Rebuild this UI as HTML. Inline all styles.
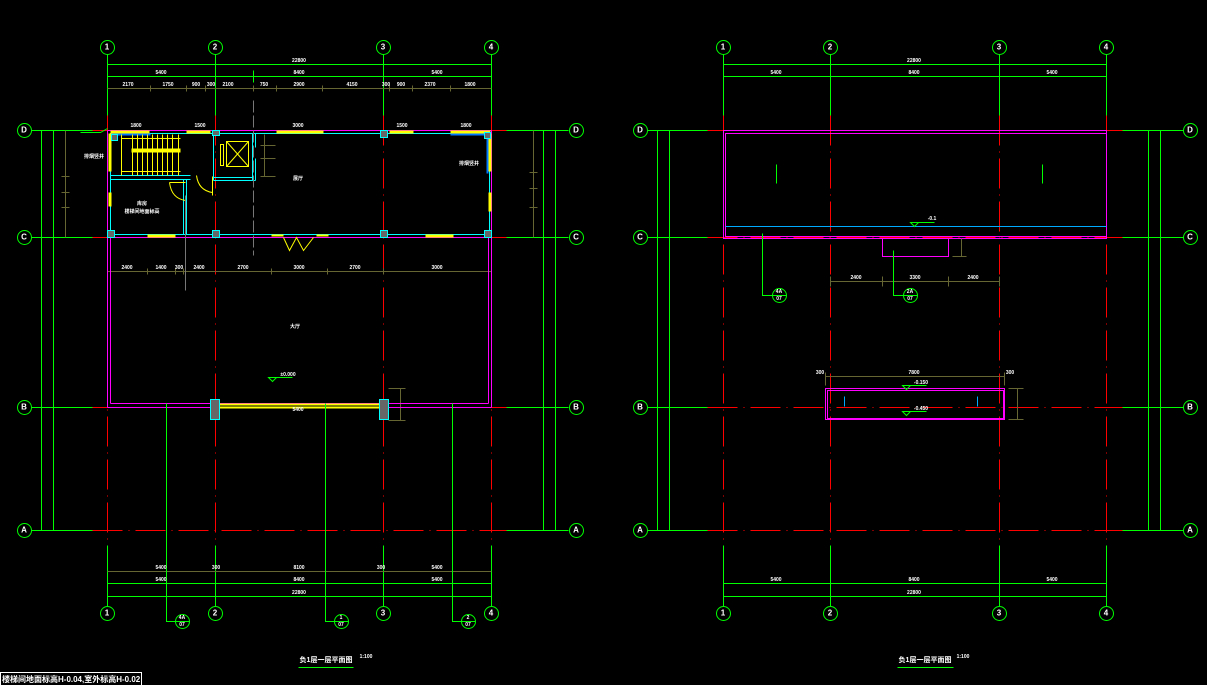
<!DOCTYPE html>
<html><head><meta charset="utf-8"><style>
html,body{margin:0;padding:0;background:#000;width:1207px;height:685px;overflow:hidden}
svg{display:block}
text{font-family:"Liberation Sans","Noto Sans CJK SC",sans-serif;fill:#fff;font-weight:bold}
</style></head><body>
<svg width="1207" height="685" viewBox="0 0 1207 685" xmlns="http://www.w3.org/2000/svg">
<g fill="none" stroke-width="1" transform="translate(0.5,0.5)">

<!-- ================= LEFT PLAN ================= -->
<g stroke="#00ff00">
<line x1="107" y1="54" x2="107" y2="115"/><line x1="215" y1="54" x2="215" y2="115"/><line x1="383" y1="54" x2="383" y2="115"/><line x1="491" y1="54" x2="491" y2="115"/>
<line x1="107" y1="545" x2="107" y2="606"/><line x1="215" y1="545" x2="215" y2="606"/><line x1="383" y1="545" x2="383" y2="606"/><line x1="491" y1="545" x2="491" y2="606"/>
</g>
<g stroke="#ff0000" stroke-dasharray="30,6,1,6">
<line x1="107" y1="115" x2="107" y2="545"/><line x1="215" y1="115" x2="215" y2="545"/><line x1="383" y1="115" x2="383" y2="545"/><line x1="491" y1="115" x2="491" y2="545"/>
</g>
<g stroke="#00ff00">
<line x1="31" y1="130" x2="92" y2="130"/><line x1="31" y1="237" x2="92" y2="237"/><line x1="31" y1="407" x2="92" y2="407"/><line x1="31" y1="530" x2="92" y2="530"/>
<line x1="506" y1="130" x2="568" y2="130"/><line x1="506" y1="237" x2="568" y2="237"/><line x1="506" y1="407" x2="568" y2="407"/><line x1="506" y1="530" x2="568" y2="530"/>
</g>
<g stroke="#ff0000" stroke-dasharray="30,6,1,6">
<line x1="92" y1="130" x2="506" y2="130"/><line x1="92" y1="237" x2="506" y2="237"/><line x1="92" y1="407" x2="506" y2="407"/><line x1="92" y1="530" x2="506" y2="530"/>
</g>
<g stroke="#00ff00">
<line x1="107" y1="64" x2="491" y2="64"/><line x1="107" y1="76" x2="491" y2="76"/>
<line x1="253" y1="70" x2="253" y2="82"/>
<line x1="107" y1="583" x2="491" y2="583"/><line x1="107" y1="596" x2="491" y2="596"/>
<line x1="41" y1="130" x2="41" y2="530"/><line x1="53" y1="130" x2="53" y2="530"/>
<line x1="543" y1="130" x2="543" y2="530"/><line x1="555" y1="130" x2="555" y2="530"/>
</g>
<g stroke="#666633">
<line x1="107" y1="88" x2="491" y2="88"/>
<line x1="150" y1="85" x2="150" y2="91"/><line x1="186" y1="85" x2="186" y2="91"/><line x1="205" y1="85" x2="205" y2="91"/><line x1="253" y1="85" x2="253" y2="91"/><line x1="276" y1="85" x2="276" y2="91"/><line x1="322" y1="85" x2="322" y2="91"/><line x1="389" y1="85" x2="389" y2="91"/><line x1="412" y1="85" x2="412" y2="91"/><line x1="450" y1="85" x2="450" y2="91"/>
<line x1="107" y1="271" x2="491" y2="271"/>
<line x1="147" y1="268" x2="147" y2="274"/><line x1="175" y1="268" x2="175" y2="274"/><line x1="183" y1="268" x2="183" y2="274"/><line x1="271" y1="268" x2="271" y2="274"/><line x1="327" y1="268" x2="327" y2="274"/><line x1="383" y1="268" x2="383" y2="274"/>
<line x1="107" y1="571" x2="491" y2="571"/>
<line x1="65" y1="130" x2="65" y2="237"/><line x1="61" y1="176" x2="69" y2="176"/><line x1="61" y1="192" x2="69" y2="192"/><line x1="61" y1="207" x2="69" y2="207"/>
<line x1="533" y1="130" x2="533" y2="237"/><line x1="529" y1="172" x2="537" y2="172"/><line x1="529" y1="188" x2="537" y2="188"/><line x1="529" y1="207" x2="537" y2="207"/>
<line x1="264" y1="134" x2="264" y2="176"/><line x1="260" y1="145" x2="275" y2="145"/><line x1="260" y1="158" x2="275" y2="158"/><line x1="260" y1="176" x2="275" y2="176"/>
<line x1="400" y1="388" x2="400" y2="420"/><line x1="388" y1="388" x2="405" y2="388"/><line x1="388" y1="420" x2="405" y2="420"/>
</g>
<g stroke="#ff00ff">
<line x1="107" y1="130" x2="491" y2="130"/>
<line x1="107" y1="130" x2="107" y2="407"/><line x1="110" y1="237" x2="110" y2="403"/>
<line x1="491" y1="130" x2="491" y2="407"/><line x1="488" y1="237" x2="488" y2="403"/>
<line x1="110" y1="403" x2="488" y2="403"/><line x1="107" y1="407" x2="491" y2="407"/>
<line x1="107" y1="237" x2="491" y2="237"/>
</g>
<g stroke="#00ffff">
<rect x="110" y="133" width="379" height="101"/>
<line x1="110" y1="179" x2="190" y2="179"/><line x1="110" y1="175" x2="190" y2="175"/>
<line x1="183" y1="179" x2="183" y2="234"/><line x1="186" y1="179" x2="186" y2="234"/>
<line x1="213" y1="133" x2="213" y2="180"/><line x1="252" y1="133" x2="252" y2="180"/><line x1="213" y1="180" x2="255" y2="180"/><line x1="213" y1="177" x2="252" y2="177"/>
<line x1="255" y1="133" x2="255" y2="147"/><line x1="255" y1="158" x2="255" y2="180"/>
</g>
<g fill="#ffff00" stroke="none">
<rect x="110" y="130" width="39" height="3"/><rect x="186" y="130" width="24" height="3"/><rect x="276" y="130" width="47" height="3"/><rect x="389" y="130" width="24" height="3"/><rect x="450" y="130" width="40" height="3"/>
<rect x="108" y="133" width="3" height="38"/><rect x="108" y="192" width="3" height="14"/><rect x="488" y="133" width="3" height="38"/><rect x="488" y="192" width="3" height="19"/>
<rect x="147" y="234" width="28" height="3"/><rect x="425" y="234" width="28" height="3"/><rect x="271" y="234" width="12" height="2"/><rect x="316" y="234" width="12" height="2"/>
<rect x="219" y="403" width="162" height="2"/><rect x="219" y="406" width="162" height="2"/>
</g>
<g fill="#0077ff" stroke="none"><rect x="111" y="133" width="39" height="2"/><rect x="450" y="133" width="38" height="2"/><rect x="486" y="133" width="2" height="40"/></g>
<g stroke="#ffff00">
<line x1="121" y1="134" x2="121" y2="175"/><line x1="121" y1="138" x2="180" y2="138"/><line x1="121" y1="171" x2="180" y2="171"/>
<line x1="132" y1="134" x2="132" y2="175"/><line x1="137" y1="134" x2="137" y2="175"/><line x1="142" y1="134" x2="142" y2="175"/><line x1="147" y1="134" x2="147" y2="175"/><line x1="152" y1="134" x2="152" y2="175"/><line x1="157" y1="134" x2="157" y2="175"/><line x1="162" y1="134" x2="162" y2="175"/><line x1="167" y1="134" x2="167" y2="175"/><line x1="172" y1="134" x2="172" y2="175"/><line x1="178" y1="134" x2="178" y2="175"/>
<rect x="226" y="141" width="22" height="25"/><line x1="226" y1="141" x2="248" y2="166"/><line x1="248" y1="141" x2="226" y2="166"/>
<rect x="220" y="144" width="3" height="21"/>
<path d="M169,182 Q171,198 185,200"/><line x1="169" y1="182" x2="185" y2="182"/>
<path d="M196,175 Q198,190 212,192"/><line x1="212" y1="176" x2="212" y2="195"/>
<path d="M283,237 L289,250 L296,237 L303,250 L313,237"/>
</g>
<g fill="#ffff00" stroke="none"><rect x="131" y="148" width="49" height="4"/></g>
<g stroke="#00ffff" fill="#666">
<rect x="107" y="230" width="7" height="7"/><rect x="212" y="230" width="7" height="7"/><rect x="380" y="230" width="7" height="7"/><rect x="484" y="230" width="7" height="7"/>
<rect x="212" y="130" width="7" height="5"/><rect x="380" y="130" width="7" height="7"/><rect x="484" y="132" width="6" height="6"/><rect x="111" y="134" width="6" height="6"/>
<rect x="210" y="399" width="9" height="20"/><rect x="379" y="399" width="9" height="20"/>
</g>
<line x1="253" y1="100" x2="253" y2="255" stroke="#777" stroke-dasharray="12,3"/>
<line x1="185" y1="195" x2="185" y2="290" stroke="#777"/>
<g stroke="#00ff00">
<polyline points="166,403 166,621 175,621"/><polyline points="325,403 325,621 334,621"/><polyline points="452,403 452,621 461,621"/>
<path d="M268,377 l4,4 l4,-4 z M272,377 h20"/>
<path d="M80,132 h20 l7,-4"/>
<circle cx="182" cy="621" r="7"/><circle cx="341" cy="621" r="7"/><circle cx="468" cy="621" r="7"/>
<line x1="175" y1="621" x2="189" y2="621"/><line x1="334" y1="621" x2="348" y2="621"/><line x1="461" y1="621" x2="475" y2="621"/>
<circle cx="107" cy="47" r="7"/><circle cx="215" cy="47" r="7"/><circle cx="383" cy="47" r="7"/><circle cx="491" cy="47" r="7"/>
<circle cx="107" cy="613" r="7"/><circle cx="215" cy="613" r="7"/><circle cx="383" cy="613" r="7"/><circle cx="491" cy="613" r="7"/>
<circle cx="24" cy="130" r="7"/><circle cx="24" cy="237" r="7"/><circle cx="24" cy="407" r="7"/><circle cx="24" cy="530" r="7"/>
<circle cx="576" cy="130" r="7"/><circle cx="576" cy="237" r="7"/><circle cx="576" cy="407" r="7"/><circle cx="576" cy="530" r="7"/>
<line x1="298" y1="667" x2="353" y2="667"/>
</g>

<!-- ================= RIGHT PLAN ================= -->
<g stroke="#00ff00">
<line x1="723" y1="54" x2="723" y2="115"/><line x1="830" y1="54" x2="830" y2="115"/><line x1="999" y1="54" x2="999" y2="115"/><line x1="1106" y1="54" x2="1106" y2="115"/>
<line x1="723" y1="545" x2="723" y2="606"/><line x1="830" y1="545" x2="830" y2="606"/><line x1="999" y1="545" x2="999" y2="606"/><line x1="1106" y1="545" x2="1106" y2="606"/>
<line x1="647" y1="130" x2="707" y2="130"/><line x1="647" y1="237" x2="707" y2="237"/><line x1="647" y1="407" x2="707" y2="407"/><line x1="647" y1="530" x2="707" y2="530"/>
<line x1="1122" y1="130" x2="1183" y2="130"/><line x1="1122" y1="237" x2="1183" y2="237"/><line x1="1122" y1="407" x2="1183" y2="407"/><line x1="1122" y1="530" x2="1183" y2="530"/>
<line x1="723" y1="64" x2="1106" y2="64"/><line x1="723" y1="76" x2="1106" y2="76"/>
<line x1="723" y1="583" x2="1106" y2="583"/><line x1="723" y1="596" x2="1106" y2="596"/>
<line x1="657" y1="130" x2="657" y2="530"/><line x1="669" y1="130" x2="669" y2="530"/>
<line x1="1148" y1="130" x2="1148" y2="530"/><line x1="1160" y1="130" x2="1160" y2="530"/>
</g>
<g stroke="#ff0000" stroke-dasharray="30,6,1,6">
<line x1="723" y1="115" x2="723" y2="545"/><line x1="830" y1="115" x2="830" y2="545"/><line x1="999" y1="115" x2="999" y2="545"/><line x1="1106" y1="115" x2="1106" y2="545"/>
<line x1="707" y1="130" x2="1122" y2="130"/><line x1="707" y1="237" x2="1122" y2="237"/><line x1="707" y1="407" x2="1122" y2="407"/><line x1="707" y1="530" x2="1122" y2="530"/>
</g>
<g stroke="#ff00ff">
<rect x="723" y="130" width="383" height="108"/><rect x="725" y="133" width="381" height="103"/>
<polyline points="882,238 882,256 948,256 948,238"/>
<rect x="825" y="388" width="179" height="31"/><rect x="827" y="390" width="176" height="28"/>
</g>
<line x1="725" y1="226" x2="1106" y2="226" stroke="#00aaff"/>
<g stroke="#666633">
<line x1="830" y1="281" x2="999" y2="281"/><line x1="830" y1="276" x2="830" y2="286"/><line x1="882" y1="276" x2="882" y2="286"/><line x1="948" y1="276" x2="948" y2="286"/><line x1="999" y1="276" x2="999" y2="286"/>
<line x1="961" y1="238" x2="961" y2="256"/><line x1="952" y1="256" x2="966" y2="256"/>
<line x1="825" y1="376" x2="1004" y2="376"/><line x1="825" y1="372" x2="825" y2="385"/><line x1="1004" y1="372" x2="1004" y2="385"/>
<line x1="1017" y1="388" x2="1017" y2="419"/><line x1="1008" y1="388" x2="1023" y2="388"/><line x1="1008" y1="419" x2="1023" y2="419"/>
</g>
<g stroke="#00ff00">
<polyline points="762,233 762,295 772,295"/>
<polyline points="893,250 893,295 903,295"/>
<line x1="776" y1="164" x2="776" y2="183"/><line x1="1042" y1="164" x2="1042" y2="183"/>
<line x1="897" y1="667" x2="953" y2="667"/>
<circle cx="779" cy="295" r="7"/><line x1="772" y1="295" x2="786" y2="295"/>
<circle cx="910" cy="295" r="7"/><line x1="903" y1="295" x2="917" y2="295"/>
<path d="M910,222 l4,4 l4,-4 z M914,222 h20"/>
<path d="M902,385 l4,4 l4,-4 z M906,385 h20"/>
<path d="M902,411 l4,4 l4,-4 z M906,411 h20"/>
<circle cx="723" cy="47" r="7"/><circle cx="830" cy="47" r="7"/><circle cx="999" cy="47" r="7"/><circle cx="1106" cy="47" r="7"/>
<circle cx="723" cy="613" r="7"/><circle cx="830" cy="613" r="7"/><circle cx="999" cy="613" r="7"/><circle cx="1106" cy="613" r="7"/>
<circle cx="640" cy="130" r="7"/><circle cx="640" cy="237" r="7"/><circle cx="640" cy="407" r="7"/><circle cx="640" cy="530" r="7"/>
<circle cx="1190" cy="130" r="7"/><circle cx="1190" cy="237" r="7"/><circle cx="1190" cy="407" r="7"/><circle cx="1190" cy="530" r="7"/>
</g>
<g stroke="#00aaff"><line x1="844" y1="396" x2="844" y2="406"/><line x1="977" y1="396" x2="977" y2="406"/></g>

<rect x="0" y="672" width="141" height="14" stroke="#fff"/>
</g>

<g font-size="8" text-anchor="middle" dominant-baseline="central" font-weight="normal">
<text x="107" y="47">1</text><text x="215" y="47">2</text><text x="383" y="47">3</text><text x="491" y="47">4</text>
<text x="107" y="613">1</text><text x="215" y="613">2</text><text x="383" y="613">3</text><text x="491" y="613">4</text>
<text x="24" y="130">D</text><text x="24" y="237">C</text><text x="24" y="407">B</text><text x="24" y="530">A</text>
<text x="576" y="130">D</text><text x="576" y="237">C</text><text x="576" y="407">B</text><text x="576" y="530">A</text>
<text x="723" y="47">1</text><text x="830" y="47">2</text><text x="999" y="47">3</text><text x="1106" y="47">4</text>
<text x="723" y="613">1</text><text x="830" y="613">2</text><text x="999" y="613">3</text><text x="1106" y="613">4</text>
<text x="640" y="130">D</text><text x="640" y="237">C</text><text x="640" y="407">B</text><text x="640" y="530">A</text>
<text x="1190" y="130">D</text><text x="1190" y="237">C</text><text x="1190" y="407">B</text><text x="1190" y="530">A</text>
</g>
<g font-size="5" text-anchor="middle">
<text x="299" y="62">22800</text><text x="161" y="74">5400</text><text x="299" y="74">8400</text><text x="437" y="74">5400</text>
<text x="128" y="86">2170</text><text x="168" y="86">1750</text><text x="196" y="86">900</text><text x="211" y="86">300</text><text x="228" y="86">2100</text><text x="264" y="86">750</text><text x="299" y="86">2900</text><text x="352" y="86">4150</text><text x="386" y="86">300</text><text x="401" y="86">900</text><text x="430" y="86">2370</text><text x="470" y="86">1800</text>
<text x="127" y="269">2400</text><text x="161" y="269">1400</text><text x="179" y="269">300</text><text x="199" y="269">2400</text><text x="243" y="269">2700</text><text x="299" y="269">3000</text><text x="355" y="269">2700</text><text x="437" y="269">3000</text>
<text x="161" y="569">5400</text><text x="216" y="569">300</text><text x="299" y="569">8100</text><text x="381" y="569">300</text><text x="437" y="569">5400</text>
<text x="161" y="581">5400</text><text x="299" y="581">8400</text><text x="437" y="581">5400</text><text x="299" y="594">22800</text>
<text x="298" y="180">展厅</text><text x="295" y="328">大厅</text><text x="142" y="205">库房</text><text x="142" y="213">楼梯间地面标高</text>
<text x="298" y="127">3000</text><text x="136" y="127">1800</text><text x="466" y="127">1800</text><text x="200" y="127">1500</text><text x="402" y="127">1500</text>
<text x="288" y="376">±0.000</text><text x="298" y="411">5400</text><text x="94" y="158">排烟竖井</text><text x="469" y="165">排烟竖井</text>
<text x="914" y="62">22800</text><text x="776" y="74">5400</text><text x="914" y="74">8400</text><text x="1052" y="74">5400</text>
<text x="776" y="581">5400</text><text x="914" y="581">8400</text><text x="1052" y="581">5400</text><text x="914" y="594">22800</text>
<text x="856" y="279">2400</text><text x="915" y="279">3300</text><text x="973" y="279">2400</text>
<text x="914" y="374">7800</text><text x="921" y="384">-0.150</text><text x="921" y="410">-0.450</text><text x="932" y="220">-0.1</text>
<text x="779" y="293">4A</text><text x="779" y="300">07</text><text x="910" y="293">2A</text><text x="910" y="300">07</text>
<text x="182" y="619">4A</text><text x="182" y="626">07</text><text x="341" y="619">1</text><text x="341" y="626">07</text><text x="468" y="619">2</text><text x="468" y="626">07</text>
<text x="820" y="374">300</text><text x="1010" y="374">300</text>
</g>
<g font-size="7" text-anchor="middle">
<text x="326" y="662">负1层一层平面图</text><text x="366" y="658" font-size="5">1:100</text>
<text x="925" y="662">负1层一层平面图</text><text x="963" y="658" font-size="5">1:100</text>
</g>
<text x="2" y="682" font-size="8">楼梯间地面标高H-0.04,室外标高H-0.02</text>
</svg>
</body></html>
